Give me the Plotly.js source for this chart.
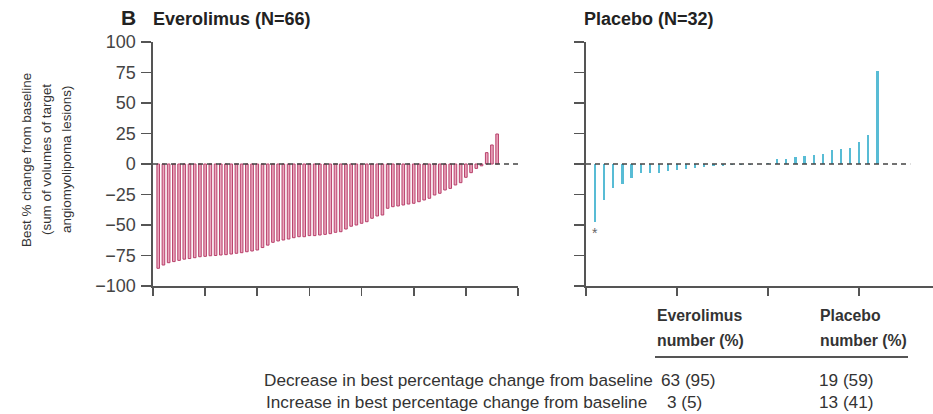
<!DOCTYPE html>
<html>
<head>
<meta charset="utf-8">
<script src="https://cdn.plot.ly/plotly-3.0.1.min.js"></script>
<style>html,body{margin:0;padding:0;background:#fff;}#chart{width:933px;height:414px;}</style>
</head>
<body>
<div id="chart"></div>
<script>
// ---- data ----
const everolimusChange = [
  -85.5, -82.8, -80.9, -80.0, -79.0, -78.0, -77.5, -76.8, -76.0, -75.7,
  -75.2, -75.0, -74.6, -74.3, -73.8, -73.2, -72.7, -71.9, -71.3, -70.5,
  -68.5, -66.5, -64.2, -63.1, -62.3, -61.5, -60.4, -59.6, -59.6, -58.7,
  -58.7, -58.2, -57.7, -57.1, -56.0, -55.5, -53.3, -51.0, -50.0, -48.6,
  -47.3, -44.5, -42.6, -41.8, -36.3, -35.0, -34.4, -33.6, -32.8, -32.2,
  -30.9, -29.5, -28.1, -25.4, -24.0, -21.3, -20.0, -17.2, -15.3, -10.9,
  -7.1, -3.6, -1.5, 9.3, 15.6, 24.6
];
const placeboChange = [
  -47.5, -29.7, -19.4, -16.0, -11.4, -7.3, -7.1, -7.0, -5.7, -4.6,
  -4.0, -3.2, -2.4, -1.6, -1.3, -1.0, -0.8, -0.5, -0.3, 0.5,
  3.8, 4.1, 5.5, 6.3, 7.4, 7.9, 11.5, 12.0, 12.8, 17.8,
  23.8, 76.2
];
const panelLetter = 'B';
const panelTitles = ['Everolimus (N=66)', 'Placebo (N=32)'];
const yTickVals = [-100, -75, -50, -25, 0, 25, 50, 75, 100];
const yTickText = ['\u2212100', '\u221275', '\u221250', '\u221225', '0', '25', '50', '75', '100'];
const xTickValsLeft = [0, 10, 20, 30, 40, 50, 60, 70];
const xTickValsRight = [0, 10, 20, 30];
const yTitleLines = ['Best % change from baseline', '(sum of volumes of target', 'angiomyolipoma lesions)'];
const tableHeaders = ['Everolimus', 'Placebo'];
const tableSubHeader = 'number (%)';
const tableRowLabels = ['Decrease in best percentage change from baseline', 'Increase in best percentage change from baseline'];
const everolimusCounts = ['63 (95)', '3 (5)'];
const placeboCounts = ['19 (59)', '13 (41)'];
const footnoteMark = '*';

// ---- rendering ----
const W = 933, H = 414;
const px = v => v / W;
const py = v => 1 - v / H;
const FONT = 'Liberation Sans, Arial, sans-serif';
const TXT = '#333333';
const AX = '#555555';

const xsLeft = everolimusChange.map((_, i) => i + 1);
const xsRight = placeboChange.map((_, i) => i + 1);

const traces = [
  {
    type: 'bar', x: xsLeft, y: everolimusChange, xaxis: 'x', yaxis: 'y',
    width: 0.5,
    marker: {color: '#eaa6bd', line: {color: '#b8416b', width: 1}},
    hoverinfo: 'skip', showlegend: false
  },
  {
    type: 'bar', x: xsRight, y: placeboChange, xaxis: 'x2', yaxis: 'y2',
    width: 0.24,
    marker: {color: '#58bcd5', line: {width: 0}},
    hoverinfo: 'skip', showlegend: false
  }
];

const yDomain = [py(286), py(42)];
const axisCommon = {
  showline: true, linecolor: AX, linewidth: 1.6, showgrid: false, zeroline: false,
  ticks: 'outside', tickcolor: AX, tickwidth: 1.6, ticklen: 8, fixedrange: true
};

const layout = {
  width: W, height: H,
  margin: {l: 0, r: 0, t: 0, b: 0},
  paper_bgcolor: '#ffffff', plot_bgcolor: '#ffffff',
  bargap: 0, showlegend: false,
  font: {family: FONT, color: TXT},
  xaxis: Object.assign({}, axisCommon, {
    domain: [px(153), px(518)], range: [0, 70], anchor: 'y',
    tickmode: 'array', tickvals: xTickValsLeft, showticklabels: false
  }),
  yaxis: Object.assign({}, axisCommon, {
    domain: yDomain, range: [-100, 100], anchor: 'x', ticklen: 10,
    tickmode: 'array', tickvals: yTickVals, ticktext: yTickText,
    ticklabelstandoff: 2,
    tickfont: {family: FONT, size: 18, color: '#444'}
  }),
  xaxis2: Object.assign({}, axisCommon, {
    domain: [px(586), 1], range: [0, 38.1], anchor: 'y2',
    tickmode: 'array', tickvals: xTickValsRight, showticklabels: false
  }),
  yaxis2: Object.assign({}, axisCommon, {
    domain: yDomain, range: [-100, 100], anchor: 'x2', ticklen: 10,
    tickmode: 'array', tickvals: yTickVals, showticklabels: false
  }),
  shapes: [
    {type: 'line', xref: 'x', yref: 'y', x0: 0, x1: 70, y0: 0, y1: 0, layer: 'above',
     line: {color: '#444', width: 1.5, dash: '5px,4px'}},
    {type: 'line', xref: 'x2', yref: 'y2', x0: 0, x1: 35.6, y0: 0, y1: 0, layer: 'above',
     line: {color: '#444', width: 1.5, dash: '5px,4px'}},
    {type: 'line', xref: 'paper', yref: 'paper', x0: px(655), x1: px(908), y0: py(357), y1: py(357),
     line: {color: '#555', width: 2}}
  ],
  annotations: []
};

const A = layout.annotations;
// panel letter and titles
A.push({xref: 'paper', yref: 'paper', x: px(119), y: py(18), xanchor: 'left', yanchor: 'middle',
  text: '<b>' + panelLetter + '</b>', showarrow: false, font: {family: FONT, size: 21, color: '#222'}});
A.push({xref: 'paper', yref: 'paper', x: px(151), y: py(19), xanchor: 'left', yanchor: 'middle',
  text: '<b>' + panelTitles[0] + '</b>', showarrow: false, font: {family: FONT, size: 18, color: '#222'}});
A.push({xref: 'paper', yref: 'paper', x: px(582), y: py(19), xanchor: 'left', yanchor: 'middle',
  text: '<b>' + panelTitles[1] + '</b>', showarrow: false, font: {family: FONT, size: 18, color: '#222'}});
// y-axis title, one annotation per line
const titleX = [27, 47, 67];
yTitleLines.forEach((t, i) => {
  A.push({xref: 'paper', yref: 'paper', x: px(titleX[i]), y: py(160), xanchor: 'center', yanchor: 'middle',
    textangle: -90, text: t, showarrow: false,
    font: {family: FONT, size: 13.4, color: TXT}});
});
// footnote mark under first placebo bar
A.push({xref: 'x2', yref: 'y2', x: xsRight[0], y: placeboChange[0], xanchor: 'center', yanchor: 'top',
  yshift: -1, text: footnoteMark, showarrow: false, font: {family: FONT, size: 14, color: '#666'}});
// table headers
const headerX = [655, 818];
tableHeaders.forEach((h, i) => {
  A.push({xref: 'paper', yref: 'paper', x: px(headerX[i]), y: py(315), xanchor: 'left', yanchor: 'middle',
    text: '<b>' + h + '</b>', showarrow: false, font: {family: FONT, size: 15.8, color: '#333'}});
  A.push({xref: 'paper', yref: 'paper', x: px(headerX[i]), y: py(340), xanchor: 'left', yanchor: 'middle',
    text: '<b>' + tableSubHeader + '</b>', showarrow: false, font: {family: FONT, size: 15.8, color: '#333'}});
});
// table rows
const rowY = [380, 402];
tableRowLabels.forEach((lab, i) => {
  A.push({xref: 'paper', yref: 'paper', x: px(i === 0 ? 655 : 649), y: py(rowY[i]), xanchor: 'right', yanchor: 'middle',
    text: lab, showarrow: false, font: {family: FONT, size: 17.2, color: TXT}});
  A.push({xref: 'paper', yref: 'paper', x: px(i === 0 ? 659 : 665), y: py(rowY[i]), xanchor: 'left', yanchor: 'middle',
    text: everolimusCounts[i], showarrow: false, font: {family: FONT, size: 17.2, color: TXT}});
  A.push({xref: 'paper', yref: 'paper', x: px(817), y: py(rowY[i]), xanchor: 'left', yanchor: 'middle',
    text: placeboCounts[i], showarrow: false, font: {family: FONT, size: 17.2, color: TXT}});
});

Plotly.newPlot('chart', traces, layout, {staticPlot: true, displayModeBar: false});
</script>
</body>
</html>
